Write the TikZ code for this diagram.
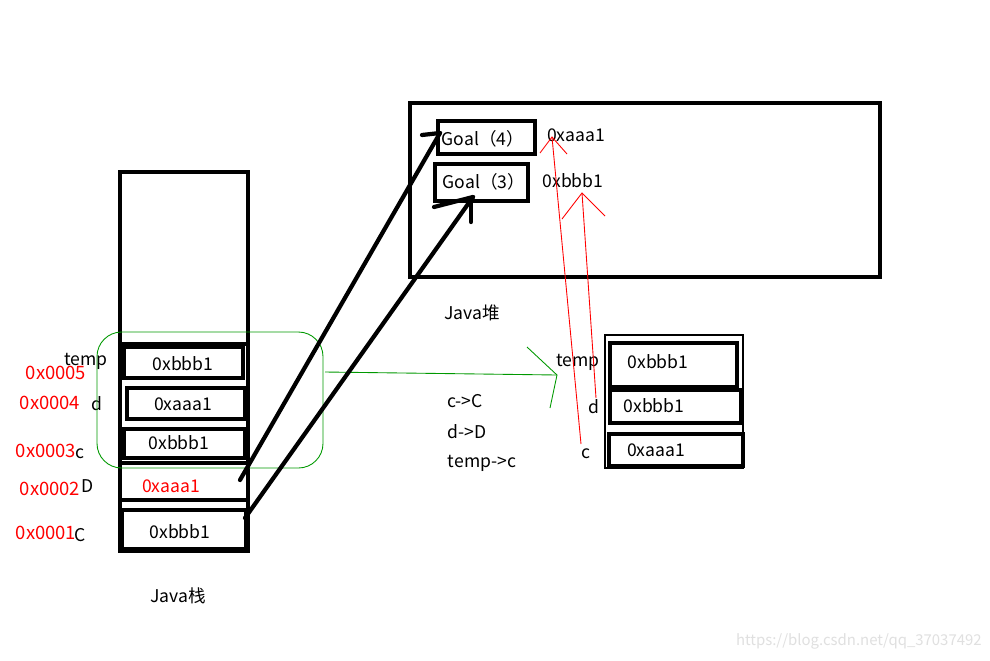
\documentclass[tikz,border=0pt]{standalone}
\usepackage{fontspec}
\setmainfont{Noto Sans CJK SC}
\begin{document}
\begin{tikzpicture}[x=0.02cm,y=-0.02cm,
  every node/.style={font=\fontsize{10}{12}\selectfont, inner sep=0pt},
  addr/.style={text=red, font=\fontsize{10.5}{12}\selectfont},
  blk/.style={line width=2.4pt, line cap=round},
  rd/.style={red, line width=0.5pt},
  gr/.style={green!60!black, line width=0.5pt}]
\useasboundingbox[fill=white] (0,0) rectangle (990,660);
% stack
\draw[line width=2.6pt] (120,172) rectangle (248,551);
\draw[line width=2.6pt] (120,344) -- (248,344);
\draw[line width=2.4pt] (124,347) rectangle (243,378);
\draw[line width=2.4pt] (127,388) rectangle (245,419);
\draw[line width=2.4pt] (124,429) rectangle (245,458);
\draw[line width=2.4pt] (120,463) -- (248,463);
\draw[line width=2.4pt] (120,500) -- (248,500);
\draw[line width=2.4pt] (122,510) rectangle (246,549);
\node (s5) at (183,364) {0xbbb1};
\node (s4) at (183,404) {0xaaa1};
\node (s3) at (179,443) {0xbbb1};
\node[text=red] (s2) at (171,486) {0xaaa1};
\node (s1) at (180,532) {0xbbb1};
\node (l5) at (86,361) {temp};
\node (l4) at (97,404) {d};
\node (l3) at (80,454) {c};
\node (l2) at (88,486) {D};
\node (l1) at (80,535) {C};
\node[addr] (a5) at (56,373) {0x0005};
\node[addr] (a4) at (50,403) {0x0004};
\node[addr] (a3) at (46,451) {0x0003};
\node[addr] (a2) at (50,489) {0x0002};
\node[addr] (a1) at (46,533) {0x0001};
\node (jz) at (178,596) {Java栈};
% green frame
\draw[gr, rounded corners=14] (97,332) rectangle (323,468);
\coordinate (g1) at (325,372);
\coordinate (g2) at (557,375);
\draw[gr] (g1) -- (g2);
\draw[gr] (527,347) -- (g2) -- (550,408);
% heap
\draw[line width=2.6pt] (410,103) rectangle (880,277);
\draw[line width=2.4pt] (438,121) rectangle (535,154);
\draw[line width=2.4pt] (435,164) rectangle (528,201);
\node (g4) at (483,139) {Goal（4）};
\node (g3) at (484,182) {Goal（3）};
\node (h1) at (576,135) {0xaaa1};
\node (h2) at (573,181) {0xbbb1};
\node (jd) at (472,313) {Java堆};
% black arrows
\coordinate (d1) at (240,480);
\coordinate (d2) at (440,133);
\draw[blk] (d1) -- (d2);
\draw[blk] (422,135) -- (d2);
\coordinate (c1) at (245,518);
\coordinate (c2) at (473,197);
\draw[blk] (c1) -- (c2);
\draw[blk] (434,207) -- (c2);
\draw[blk] (471,198) -- (471,222);
% right box
\draw[line width=1.4pt] (605,335) rectangle (743,468);
\draw[line width=2pt] (610,343) rectangle (737,387);
\draw[line width=2pt] (610,390) rectangle (741,423);
\draw[line width=2pt] (609,434) rectangle (743,466);
\node (r1) at (658,362) {0xbbb1};
\node (r2) at (654,406) {0xbbb1};
\node (r3) at (656,450) {0xaaa1};
\node (rl1) at (578,362) {temp};
\node (rl2) at (594,407) {d};
\node (rl3) at (586,454) {c};
\node (t1) at (465,401) {c->C};
\node (t2) at (467,432) {d->D};
\node (t3) at (482,463) {temp->c};
% red arrows
\coordinate (ra) at (552,137);
\draw[rd] (581,444) -- (ra);
\draw[rd] (540,153) -- (ra) -- (567,154);
\coordinate (rb) at (582,193);
\draw[rd] (596,398) -- (rb);
\draw[rd] (562,219) -- (rb) -- (605,216);
% watermark
\node[text=black!12, font=\fontsize{8.5}{10}\selectfont, anchor=east] (wm) at (982,641) {https://blog.csdn.net/qq\_37037492};
\end{tikzpicture}
\end{document}
